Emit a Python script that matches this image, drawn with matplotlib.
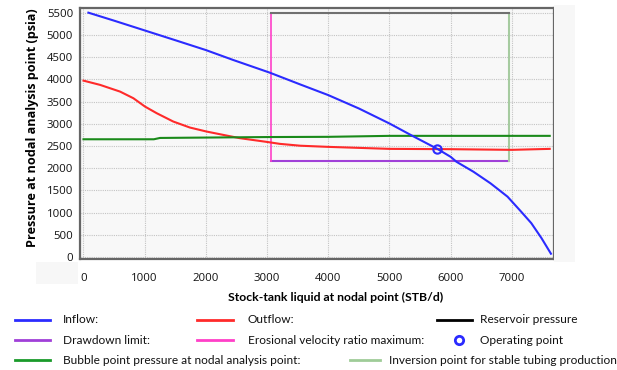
import matplotlib
matplotlib.use("Agg")
import matplotlib.pyplot as plt
from matplotlib.lines import Line2D
from matplotlib.patches import Rectangle

# ---- data ----
inflow_q = [80, 500, 1000, 1500, 2000, 2446, 3043, 3542, 4000, 4500, 5000, 5384, 5782, 6000, 6095, 6372, 6650, 6928, 7150, 7317, 7483, 7638]
inflow_p = [5500, 5320, 5100, 4880, 4658, 4435, 4150, 3884, 3644, 3343, 3005, 2720, 2434, 2254, 2143, 1919, 1659, 1359, 1022, 762, 426, 74]

outflow_q = [0, 272, 598, 815, 1005, 1196, 1467, 1739, 2011, 2337, 2554, 3000, 3207, 3542, 4000, 5000, 6000, 7000, 7618]
outflow_p = [3970, 3874, 3723, 3574, 3386, 3237, 3049, 2914, 2824, 2734, 2675, 2590, 2547, 2505, 2479, 2434, 2427, 2412, 2434]

bubble_q = [0, 1150, 1250, 3000, 4000, 5000, 7618]
bubble_p = [2650, 2650, 2680, 2700, 2705, 2727, 2727]

erosional_q = 3063
inversion_q = 6954
drawdown_p = 2156
reservoir_p = 5500
operating_q = 5782
operating_p = 2434

x_ticks = [0, 1000, 2000, 3000, 4000, 5000, 6000, 7000]
y_ticks = [0, 500, 1000, 1500, 2000, 2500, 3000, 3500, 4000, 4500, 5000, 5500]

legend_items = [
    ("Inflow:", "line", "#2b2bff"),
    ("Outflow:", "line", "#ff2a2a"),
    ("Reservoir pressure", "line", "#000000"),
    ("Drawdown limit:", "line", "#a040d8"),
    ("Erosional velocity ratio maximum:", "line", "#ff40c8"),
    ("Operating point", "marker", "#2b2bff"),
    ("Bubble point pressure at nodal analysis point:", "line", "#1a9a2a"),
    ("Inversion point for stable tubing production", "line", "#9fcc98"),
]

W, H = 617, 370
fig = plt.figure(figsize=(W / 100, H / 100), dpi=100)
fig.patch.set_facecolor("white")

# light strip right of the plot
fig.patches.append(Rectangle((554 / W, 1 - 262 / H), 21 / W, 257 / H, transform=fig.transFigure,
                             facecolor="#f7f7f7", edgecolor="none", zorder=0))
fig.patches.append(Rectangle((36 / W, 1 - 284 / H), 42 / W, 22 / H, transform=fig.transFigure,
                             facecolor="#f7f7f7", edgecolor="none", zorder=0))

ax = fig.add_axes([80 / W, 1 - 259 / H, (554 - 80) / W, (259 - 8) / H])
ax.set_facecolor("#f8f8f8")

tick_font = "Open Sans"
text_font = "Lato"

ax.plot(inflow_q, inflow_p, color="#2b2bff", lw=1.5, zorder=5)
ax.plot(outflow_q, outflow_p, color="#ff2a2a", lw=1.5, zorder=4)
ax.plot(bubble_q, bubble_p, color="#1a8a1a", lw=1.5, zorder=4)
ax.plot([erosional_q, inversion_q], [drawdown_p, drawdown_p], color="#a040d8", lw=1.5, zorder=3)
ax.plot([erosional_q, erosional_q], [drawdown_p, reservoir_p], color="#ff40c8", lw=1.2, zorder=3)
ax.plot([inversion_q, inversion_q], [drawdown_p, reservoir_p], color="#a6cba0", lw=1.5, zorder=3)
ax.plot([erosional_q, inversion_q], [reservoir_p, reservoir_p], color="#707070", lw=1.5, zorder=3)
ax.plot([operating_q], [operating_p], marker="o", mfc="none", mec="#2b2bff", ms=6, mew=1.5, zorder=6)

ax.set_xlim(-57, 7688)
ax.set_ylim(-45, 5605)
ax.set_xticks(x_ticks)
ax.set_yticks(y_ticks)
ax.set_xticklabels([str(v) for v in x_ticks], fontfamily=tick_font, fontsize=8.2, color="#111111")
ax.set_yticklabels([str(v) for v in y_ticks], fontfamily=tick_font, fontsize=8.2, color="#111111")
ax.tick_params(length=0, pad=5)
ax.tick_params(axis="x", pad=10)
ax.grid(True, color="#c4c4c4", lw=0.8, linestyle=(0, (1, 1)))
ax.set_axisbelow(True)
for s in ax.spines.values():
    s.set_color("#666666")
    s.set_linewidth(1.6)

fig.text(33 / W, 1 - 128 / H, "Pressure at nodal analysis point (psia)", rotation=90,
         ha="center", va="center", fontfamily="Open Sans", fontweight="bold", fontsize=9.1)
fig.text(335.5 / W, 1 - 297 / H, "Stock-tank liquid at nodal point (STB/d)",
         ha="center", va="center", fontfamily=text_font, fontweight="bold", fontsize=8.8)

# manual legend layout
rows_y = [319.5, 340, 360]
positions = [
    (15, 50, 63, 0), (197, 233, 248, 0), (437, 472, 480, 0),
    (15, 50, 63, 1), (197, 233, 248, 1), (459, 459, 480, 1),
    (15, 50, 63, 2), (350, 380, 389, 2),
]
for (label, kind, color), (x0, x1, xt, r) in zip(legend_items, positions):
    yy = 1 - rows_y[r] / H
    if kind == "line":
        fig.add_artist(Line2D([x0 / W, x1 / W], [yy, yy], color=color, lw=2, transform=fig.transFigure))
    else:
        fig.add_artist(Line2D([x0 / W], [yy], marker="o", mfc="none", mec=color, ms=6, mew=2,
                              transform=fig.transFigure))
    fig.text(xt / W, yy, label, ha="left", va="center",
             fontfamily=text_font, fontsize=8.6, color="#111111")

fig.savefig("out.png", dpi=100)
